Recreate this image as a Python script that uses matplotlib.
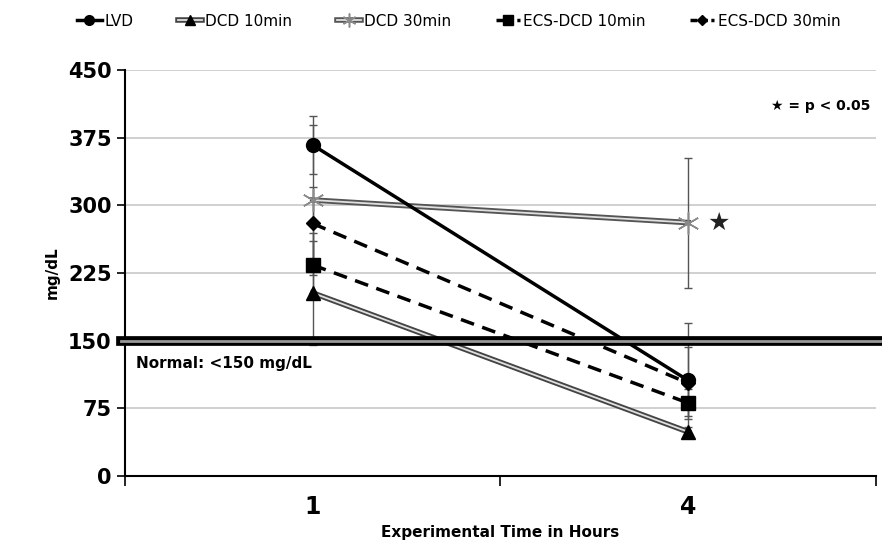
import numpy as np
import matplotlib.pyplot as plt
from matplotlib.lines import Line2D
import matplotlib.patheffects as pe

hours = ["1", "4"]
lvd = [367, 106]
lvd_err = [32, 64]
dcd10 = [203, 49]
dcd10_err = [58, 5]
dcd30 = [306, 281]
dcd30_err = [83, 72]
ecs10 = [234, 81]
ecs10_err = [35, 15]
ecs30 = [280, 103]
ecs30_err = [41, 40]
normal_level = 150

x = np.arange(len(hours))

fig = plt.figure(figsize=(8.82, 5.57), dpi=100)
ax = fig.add_axes([0.1417, 0.1454, 0.8513, 0.7286])

# gridlines
ax.set_ylim(0, 450)
ax.set_xlim(-0.5, 1.5)
ax.set_yticks(np.arange(0, 451, 75))
ax.yaxis.grid(True, color="#c8c8c8", lw=1.2)
ax.set_axisbelow(True)

# error bars
err_kw = dict(fmt="none", ecolor="#555555", elinewidth=1.0, capsize=3, capthick=1.0, zorder=2)
for vals, errs in [(lvd, lvd_err), (dcd10, dcd10_err), (dcd30, dcd30_err),
                   (ecs10, ecs10_err), (ecs30, ecs30_err)]:
    ax.errorbar(x, vals, yerr=errs, **err_kw)

dash = (0, (4, 2.5))
# double-line DCD series: dark outer line, light inner line, markers on top
ax.plot(x, dcd10, color="#444444", lw=4, zorder=3)
ax.plot(x, dcd10, color="#e0e0e0", lw=1.3, zorder=3)
ax.plot(x, dcd10, ls="none", marker="^", ms=10, color="black", zorder=4)
ax.plot(x, dcd30, color="#555555", lw=4, zorder=3)
ax.plot(x, dcd30, color="#e0e0e0", lw=1.3, zorder=3)
ax.plot(x, dcd30, ls="none", marker=(6, 2, 0), ms=16, mec="#8a8a8a", mew=1.1, zorder=4)

ax.plot(x, lvd, color="black", lw=2.5, marker="o", ms=10, zorder=4)
ax.plot(x, ecs10, color="black", lw=2.5, ls=dash, marker="s", ms=10, zorder=4)
ax.plot(x, ecs30, color="black", lw=2.5, ls=dash, marker="D", ms=7, zorder=4)

# normal threshold line
ax.plot([-0.51, 1.52], [normal_level, normal_level], color="#999999", lw=2, clip_on=False, zorder=5,
        path_effects=[pe.Stroke(linewidth=7, foreground="black"), pe.Normal()])
ax.text(-0.47, 125, "Normal: <150 mg/dL", fontsize=11, fontweight="bold", va="center", ha="left")

# significance
ax.text(1.05, dcd30[1], "\u2605", fontsize=18, va="center", ha="left", color="#222222")
ax.text(1.22, 410, "\u2605 = p < 0.05", fontsize=10, fontweight="bold", va="center", ha="left")

# axes styling
for s in ["top", "right"]:
    ax.spines[s].set_visible(False)
ax.spines["left"].set_linewidth(1.5)
ax.spines["bottom"].set_linewidth(1.5)
ax.set_xticks(x)
ax.set_xticklabels(hours, fontsize=17, fontweight="bold")
ax.tick_params(axis="x", length=0, pad=14)
ax.set_xticks([-0.5, 0.5, 1.5], minor=True)
ax.tick_params(axis="x", which="minor", length=7, width=1.2, direction="out")
ax.tick_params(axis="y", labelsize=15, length=6, width=1.2)
for lab in ax.get_yticklabels():
    lab.set_fontweight("bold")
ax.set_xlabel("Experimental Time in Hours", fontsize=11, fontweight="bold", labelpad=4)
ax.set_ylabel("mg/dL", fontsize=11, fontweight="bold", labelpad=6)

handles = [
    Line2D([], [], color="black", lw=2.5, marker="o", ms=7),
    (Line2D([], [], color="#444444", lw=4), Line2D([], [], color="#e0e0e0", lw=1.3),
     Line2D([], [], ls="none", marker="^", ms=7, color="black")),
    (Line2D([], [], color="#555555", lw=4), Line2D([], [], color="#e0e0e0", lw=1.3),
     Line2D([], [], ls="none", marker=(6, 2, 0), ms=10, mec="#8a8a8a", mew=1.1)),
    Line2D([], [], color="black", lw=2.5, ls=(0, (2, 1)), marker="s", ms=7),
    Line2D([], [], color="black", lw=2.5, ls=(0, (2, 1)), marker="D", ms=5),
]
labels = ["LVD", "DCD 10min", "DCD 30min", "ECS-DCD 10min", "ECS-DCD 30min"]
fig.legend(handles, labels, loc="upper center", bbox_to_anchor=(0.52, 1.0), ncol=5, frameon=False,
           fontsize=11, handlelength=1.6, handletextpad=0.2, columnspacing=2.9)

fig.savefig("out.png", dpi=100)
